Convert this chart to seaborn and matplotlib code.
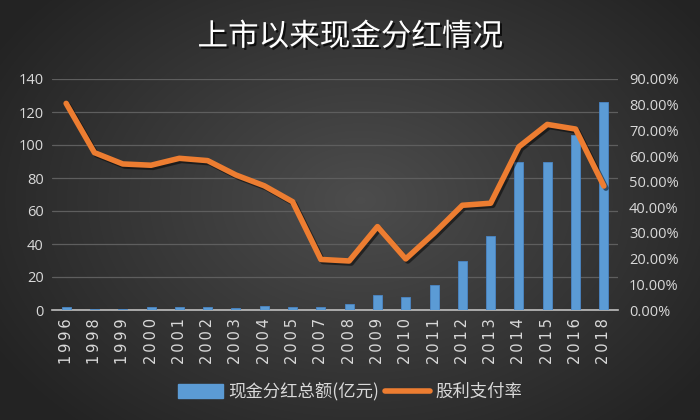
import numpy as np
import pandas as pd
import matplotlib
matplotlib.use("Agg")
import matplotlib.pyplot as plt
import matplotlib.patheffects as pe
from matplotlib.lines import Line2D
from matplotlib.patches import Patch
import seaborn as sns

years = ["1996", "1998", "1999", "2000", "2001", "2002", "2003", "2004", "2005", "2007",
         "2008", "2009", "2010", "2011", "2012", "2013", "2014", "2015", "2016", "2018"]
dividend = [1.8, 0.8, 0.9, 1.8, 1.6, 1.6, 1.5, 2.2, 2.0, 2.0,
            3.5, 9.0, 8.0, 15.0, 30.0, 45.0, 90.0, 90.0, 106.0, 126.0]
payout = [80.5, 61.3, 56.9, 56.4, 59.1, 58.2, 52.6, 48.4, 42.2, 19.7,
          19.1, 32.5, 19.9, 29.9, 40.8, 41.6, 63.6, 72.3, 70.5, 48.3]
left_ticks = [0, 20, 40, 60, 80, 100, 120, 140]
right_ticks = [0, 10, 20, 30, 40, 50, 60, 70, 80, 90]
title = "上市以来现金分红情况"
bar_label = "现金分红总额(亿元)"
line_label = "股利支付率"

sns.set_theme(style="dark")
plt.rcParams['font.family'] = ['Noto Sans CJK SC', 'DejaVu Sans']

bar_color = "#5b9bd5"
line_color = "#ed7d31"
text_color = "#d9d9d9"

fig = plt.figure(figsize=(7, 4.2), dpi=100)

# background gradient
bg = fig.add_axes([0, 0, 1, 1], zorder=-10)
yy, xx = np.mgrid[0:420, 0:700]
r = np.sqrt(((xx - 360) / 420.0) ** 2 + ((yy - 200) / 300.0) ** 2)
val = np.clip(0.30 - 0.16 * r, 0.14, 0.30)
img = np.dstack([val, val, val])
bg.imshow(img, aspect="auto", extent=[0, 1, 0, 1])
bg.axis("off")

ax = fig.add_axes([52 / 700, 110 / 420, 566 / 700, 231 / 420])
ax.set_facecolor("none")
df = pd.DataFrame({"year": years, "dividend": dividend, "payout": payout})
sns.barplot(data=df, x="year", y="dividend", ax=ax, color=bar_color,
            width=0.32, saturation=1, edgecolor="#4a86c5", linewidth=0.6, zorder=3)
ax.set_ylim(0, 140)
ax.set_xlim(-0.5, len(years) - 0.5)
ax.set_yticks(left_ticks)
ax.set_yticklabels([str(t) for t in left_ticks], color=text_color, fontsize=10.5,
                   family=['Open Sans', 'DejaVu Sans'])
ax.set_xticks(range(len(years)))
ax.set_xticklabels(["\u2009".join(y) for y in years], rotation=90, color=text_color,
                   fontsize=10.5, family=['DejaVu Sans'])
ax.tick_params(axis="both", length=0, pad=6)
ax.set_xlabel("")
ax.set_ylabel("")
ax.grid(axis="y", color="#5e5e5e", linewidth=0.9, zorder=0)
ax.grid(axis="x", visible=False)
for s in ["top", "right", "left"]:
    ax.spines[s].set_visible(False)
ax.spines["bottom"].set_color("#bfbfbf")
ax.spines["bottom"].set_linewidth(1.2)

ax2 = ax.twinx()
ax2.set_facecolor("none")
sns.lineplot(x=np.arange(len(years)), y=df["payout"], ax=ax2, color=line_color,
             linewidth=4, zorder=5,
             path_effects=[pe.SimpleLineShadow(offset=(1.5, -1.5), shadow_color="black", alpha=0.5),
                           pe.Normal()])
ax2.set_ylim(0, 90)
ax2.set_yticks(right_ticks)
ax2.set_yticklabels([f"{t:.2f}%" for t in right_ticks], color=text_color, fontsize=10.5,
                    family=['Open Sans', 'DejaVu Sans'])
ax2.tick_params(axis="y", length=0, pad=8)
ax2.set_ylabel("")
ax2.grid(False)
for s in ax2.spines.values():
    s.set_visible(False)

fig.text(0.5, 0.912, title, ha="center", va="center", color="white", fontsize=22,
         path_effects=[pe.withSimplePatchShadow(offset=(1.5, -1.5), shadow_rgbFace="black", alpha=0.7)])

handles = [Patch(facecolor=bar_color, edgecolor=bar_color),
           Line2D([0], [0], color=line_color, linewidth=4)]
leg = fig.legend(handles, [bar_label, line_label], loc="center", bbox_to_anchor=(0.5, 0.067),
                 ncol=2, frameon=False, fontsize=12.5, handlelength=2.6, handleheight=0.8,
                 columnspacing=0.3, handletextpad=0.3)
for t in leg.get_texts():
    t.set_color(text_color)

fig.savefig("out.png", dpi=100)
